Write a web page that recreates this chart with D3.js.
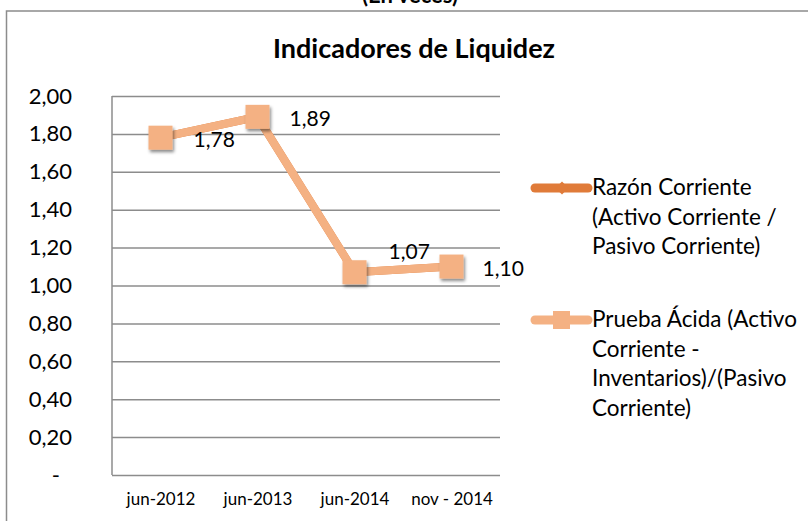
<!DOCTYPE html>
<html>
<head>
<meta charset="utf-8">
<script src="https://cdn.jsdelivr.net/npm/d3@7"></script>
<style>
  html, body { margin: 0; padding: 0; background: #fff; }
  svg { display: block; font-family: Lato, "Open Sans", sans-serif; }
  .grid line { stroke: #8c8c8c; stroke-width: 1.5; }
  .grid .domain { display: none; }
  .yaxis .domain, .xaxis .domain { display: none; }
  .yaxis text, .xaxis text { fill: #000; }
</style>
</head>
<body>
<div id="chart"></div>
<script>
// chart data
const categories = ["jun-2012", "jun-2013", "jun-2014", "nov - 2014"];
const razonCorriente = [1.78, 1.89, 1.07, 1.10];
const pruebaAcida = [1.78, 1.89, 1.07, 1.10];
const yTicks = [0, 0.2, 0.4, 0.6, 0.8, 1.0, 1.2, 1.4, 1.6, 1.8, 2.0];
const legendLabels = [
    ["Razón Corriente", "(Activo Corriente /", "Pasivo Corriente)"],
    ["Prueba Ácida (Activo", "Corriente -", "Inventarios)/(Pasivo", "Corriente)"],
];

//size
const width = 808;
const height = 521;
const margin = { top: 96, right: 308, bottom: 46, left: 112 };
const innerWidth = width - margin.left - margin.right;
const innerHeight = height - margin.top - margin.bottom;

const darkOrange = "#e07b39";
const lightOrange = "#f4b183";

const svg = d3
    .select("#chart")
    .append("svg")
    .attr("width", width)
    .attr("height", height);

//marker shadow
svg.append("defs")
    .append("filter")
    .attr("id", "shadow")
    .attr("x", "-50%").attr("y", "-50%")
    .attr("width", "200%").attr("height", "200%")
    .append("feDropShadow")
    .attr("dx", 1.5).attr("dy", 2.5)
    .attr("stdDeviation", 1.8)
    .attr("flood-color", "#000")
    .attr("flood-opacity", 0.45);

//outer frame, only the top and left edges are in view
svg.append("path")
    .attr("d", `M6.5,${height}V11H${width}`)
    .attr("fill", "none")
    .attr("stroke", "#8c8c8c")
    .attr("stroke-width", 1.5);

//sheet title, cut off at the top
svg.append("text")
    .attr("x", 410).attr("y", 3)
    .attr("text-anchor", "middle")
    .attr("font-weight", "bold")
    .attr("font-size", 22)
    .text("(En veces)");

svg.append("text")
    .attr("x", 414).attr("y", 58)
    .attr("text-anchor", "middle")
    .attr("font-weight", "bold")
    .attr("font-size", 27)
    .text("Indicadores de Liquidez");

const g = svg.append("g").attr("transform", `translate(${margin.left},${margin.top})`);

const x = d3.scalePoint().domain(categories).range([0, innerWidth]).padding(0.5);
const y = d3.scaleLinear().domain([0, 2]).range([innerHeight, 0]);

const fmt = (d) => (d === 0 ? "-" : d.toFixed(2).replace(".", ","));

//gridlines
g.append("g")
    .attr("class", "grid")
    .call(d3.axisRight(y).tickValues(yTicks).tickSize(innerWidth).tickFormat(""));

//left edge of plot
g.append("line")
    .attr("x1", 0).attr("x2", 0)
    .attr("y1", 0).attr("y2", innerHeight)
    .attr("stroke", "#8c8c8c")
    .attr("stroke-width", 1.5);

//y axis labels
const yAxis = g.append("g")
    .attr("class", "yaxis")
    .call(d3.axisLeft(y).tickValues(yTicks).tickSize(0).tickPadding(40).tickFormat(fmt));
yAxis.selectAll("text").attr("font-size", 22).attr("font-family", "Lato");
yAxis.selectAll(".tick")
    .filter((d) => d === 0)
    .select("text")
    .attr("dx", -12);

//x axis labels
const xAxis = g.append("g")
    .attr("class", "xaxis")
    .attr("transform", `translate(0,${innerHeight})`)
    .call(d3.axisBottom(x).tickSize(0).tickPadding(18));
xAxis.selectAll("text").attr("font-size", 17).attr("font-family", "Lato");

const line = d3.line().x((d, i) => x(categories[i])).y((d) => y(d));

//Razón Corriente (sits behind Prueba Ácida)
g.append("path")
    .datum(razonCorriente)
    .attr("fill", "none")
    .attr("stroke", darkOrange)
    .attr("stroke-width", 8)
    .attr("stroke-linejoin", "round")
    .attr("d", line);

g.selectAll("path.diamond")
    .data(razonCorriente)
    .join("path")
    .attr("class", "diamond")
    .attr("d", d3.symbol(d3.symbolDiamond2, 300)())
    .attr("transform", (d, i) => `translate(${x(categories[i])},${y(d)})`)
    .attr("fill", darkOrange);

//Prueba Ácida
g.append("path")
    .datum(pruebaAcida)
    .attr("fill", "none")
    .attr("stroke", lightOrange)
    .attr("stroke-width", 8)
    .attr("stroke-linejoin", "round")
    .attr("d", line);

const sq = 24;
g.selectAll("rect.square")
    .data(pruebaAcida)
    .join("rect")
    .attr("class", "square")
    .attr("x", (d, i) => x(categories[i]) - sq / 2)
    .attr("y", (d) => y(d) - sq / 2)
    .attr("width", sq)
    .attr("height", sq)
    .attr("fill", lightOrange)
    .attr("filter", "url(#shadow)");

//data labels, the third one was dragged up
const labelOffsets = [[33, 9], [32, 9], [34, -13], [31, 9]];
g.selectAll("text.value")
    .data(pruebaAcida)
    .join("text")
    .attr("class", "value")
    .attr("x", (d, i) => x(categories[i]) + labelOffsets[i][0])
    .attr("y", (d, i) => y(d) + labelOffsets[i][1])
    .attr("font-size", 21)
    .text((d) => d.toFixed(2).replace(".", ","));

//legend
const legendItems = [
    { lines: legendLabels[0], color: darkOrange, marker: "diamond", y: 188 },
    { lines: legendLabels[1], color: lightOrange, marker: "square", y: 320 },
];
const legend = svg.selectAll("g.legend")
    .data(legendItems)
    .join("g")
    .attr("class", "legend")
    .attr("transform", (d) => `translate(535,${d.y})`);

legend.append("line")
    .attr("x1", 0).attr("x2", 53)
    .attr("stroke", (d) => d.color)
    .attr("stroke-width", 9)
    .attr("stroke-linecap", "round");

legend.filter((d) => d.marker === "diamond")
    .append("path")
    .attr("d", d3.symbol(d3.symbolDiamond2, 110)())
    .attr("transform", "translate(27,0)")
    .attr("fill", darkOrange);

legend.filter((d) => d.marker === "square")
    .append("rect")
    .attr("x", 18).attr("y", -9)
    .attr("width", 17).attr("height", 18)
    .attr("fill", lightOrange);

legend.append("text")
    .attr("x", 57)
    .attr("y", 7)
    .attr("font-size", 22.5)
    .selectAll("tspan")
    .data((d) => d.lines)
    .join("tspan")
    .attr("x", 57)
    .attr("dy", (d, i) => (i === 0 ? 0 : 29.5))
    .text((d) => d);
</script>
</body>
</html>
